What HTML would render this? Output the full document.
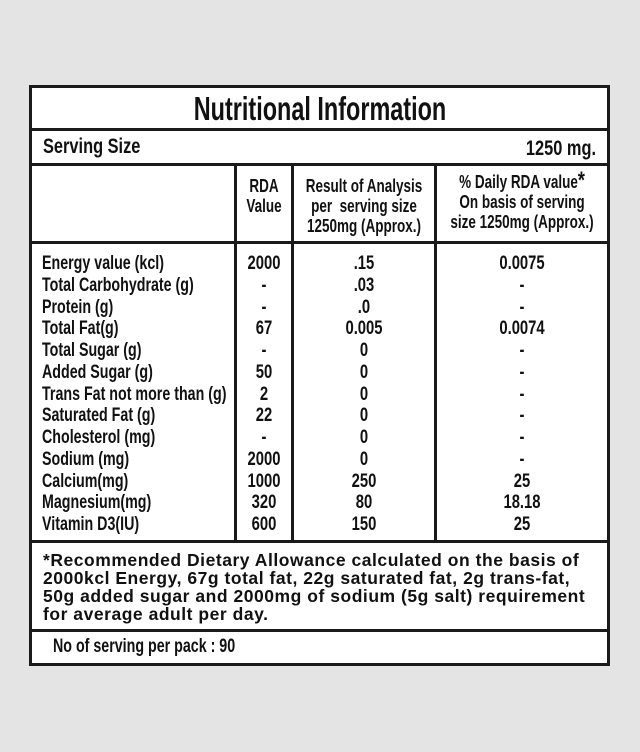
<!DOCTYPE html>
<html><head><meta charset="utf-8"><style>
html,body{margin:0;padding:0;}
body{width:640px;height:752px;background:#e4e4e4;position:relative;overflow:hidden;font-family:"Liberation Sans",sans-serif;color:#111;}
.box{position:absolute;left:29px;top:85px;width:575px;height:575px;border:3px solid #1a1a1a;background:#fff;}
.h{position:absolute;background:#1a1a1a;height:3px;left:29px;width:581px;}
.v{position:absolute;background:#1a1a1a;width:3px;}
.t{position:absolute;font-weight:bold;white-space:nowrap;}
.col{position:absolute;font-weight:bold;font-size:19px;line-height:21.75px;white-space:nowrap;}
</style></head><body>
<div class="box"></div>
<div class="h" style="top:128px"></div>
<div class="h" style="top:163px"></div>
<div class="h" style="top:241px"></div>
<div class="h" style="top:540px"></div>
<div class="h" style="top:629px"></div>
<div class="v" style="left:234px;top:163px;height:380px"></div>
<div class="v" style="left:291px;top:163px;height:380px"></div>
<div class="v" style="left:434px;top:163px;height:380px"></div>

<div class="t" style="left:0;width:640px;text-align:center;top:90px;font-size:33px;line-height:38px;transform:scaleX(.71);">Nutritional Information</div>
<div class="t" style="left:43px;top:135px;font-size:21px;line-height:24px;transform:scaleX(.78);transform-origin:left;">Serving Size</div>
<div class="t" style="left:400px;width:196px;text-align:right;top:137px;font-size:21px;line-height:24px;transform:scaleX(.78);transform-origin:right;">1250 mg.</div>

<div class="col" style="left:234px;width:60px;text-align:center;top:176px;font-size:18px;line-height:20px;transform:scaleX(.75);">RDA<br>Value</div>
<div class="col" style="left:284px;width:160px;text-align:center;top:176px;font-size:18px;line-height:20px;transform:scaleX(.75);">Result of Analysis<br>per&nbsp; serving size<br>1250mg (Approx.)</div>
<div class="col" style="left:422px;width:200px;text-align:center;top:172px;font-size:18px;line-height:20px;transform:scaleX(.75);">% Daily RDA value<span style="font-size:24px;line-height:10px">*</span><br>On basis of serving<br>size 1250mg (Approx.)</div>

<div class="col" style="left:42px;top:253px;transform:scaleX(.75);transform-origin:left;">Energy value (kcl)<br>Total Carbohydrate (g)<br>Protein (g)<br>Total Fat(g)<br>Total Sugar (g)<br>Added Sugar (g)<br>Trans Fat not more than (g)<br>Saturated Fat (g)<br>Cholesterol (mg)<br>Sodium (mg)<br>Calcium(mg)<br>Magnesium(mg)<br>Vitamin D3(IU)</div>
<div class="col" style="left:224px;width:80px;text-align:center;top:253px;transform:scaleX(.78);">2000<br>-<br>-<br>67<br>-<br>50<br>2<br>22<br>-<br>2000<br>1000<br>320<br>600</div>
<div class="col" style="left:314px;width:100px;text-align:center;top:253px;transform:scaleX(.78);">.15<br>.03<br>.0<br>0.005<br>0<br>0<br>0<br>0<br>0<br>0<br>250<br>80<br>150</div>
<div class="col" style="left:472px;width:100px;text-align:center;top:253px;transform:scaleX(.78);">0.0075<br>-<br>-<br>0.0074<br>-<br>-<br>-<br>-<br>-<br>-<br>25<br>18.18<br>25</div>

<div class="t" style="left:43px;top:551px;font-size:17.5px;line-height:18px;letter-spacing:0.53px;">*Recommended Dietary Allowance calculated on the basis of<br>2000kcl Energy, 67g total fat, 22g saturated fat, 2g trans-fat,<br>50g added sugar and 2000mg of sodium (5g salt) requirement<br>for average adult per day.</div>
<div class="t" style="left:53px;top:636px;font-size:19px;line-height:22px;transform:scaleX(.75);transform-origin:left;">No of serving per pack : 90</div>
</body></html>
